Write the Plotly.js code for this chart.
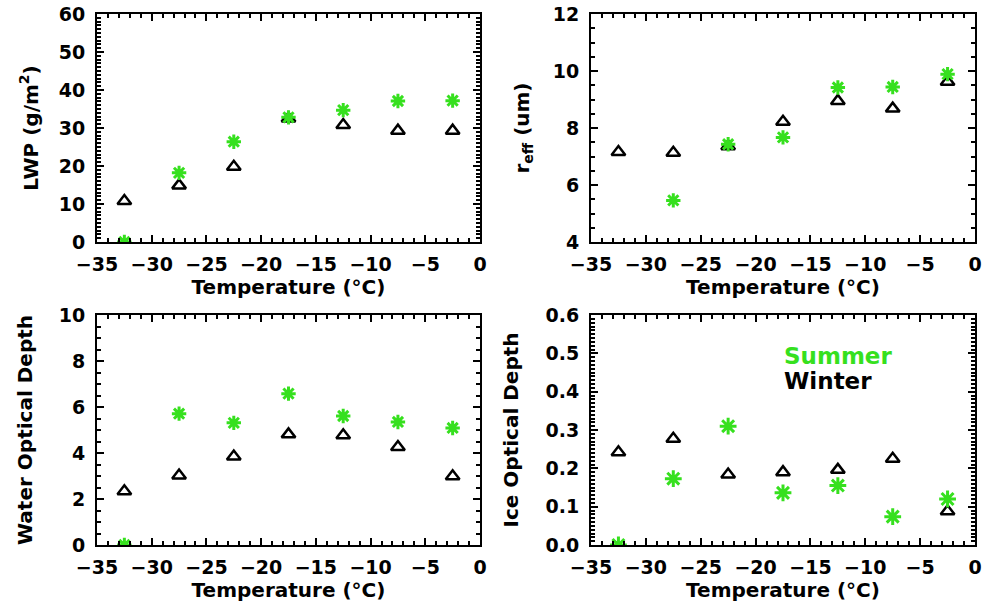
<!DOCTYPE html>
<html>
<head>
<meta charset="utf-8">
<script src="https://cdn.plot.ly/plotly-3.0.1.min.js"></script>
<style>html,body{margin:0;padding:0;background:#fff;}#chart{width:982px;height:603px;}</style>
</head>
<body>
<div id="chart"></div>
<script>
// Temperature bin centres (°C)
const temperature = [-32.5, -27.5, -22.5, -17.5, -12.5, -7.5, -2.5];

// Liquid water path (g/m^2)
const lwpWinter = [10.8, 14.9, 19.8, 32.5, 30.8, 29.3, 29.3];
const lwpSummer = [0.0, 18.2, 26.4, 32.8, 34.7, 37.1, 37.2];

// Effective radius (um)
const reffWinter = [7.16, 7.13, 7.36, 8.22, 8.95, 8.68, 9.62];
const reffSummer = [null, 5.46, 7.43, 7.67, 9.42, 9.44, 9.89];

// Water optical depth
const wodWinter = [2.34, 3.02, 3.85, 4.81, 4.77, 4.26, 2.99];
const wodSummer = [0.0, 5.71, 5.31, 6.58, 5.61, 5.35, 5.09];

// Ice optical depth
const iodWinter = [0.242, 0.277, 0.184, 0.190, 0.196, 0.225, 0.088];
const iodSummer = [0.0, 0.173, 0.310, 0.136, 0.155, 0.074, 0.120];

const seriesNames = ["Winter", "Summer"];
const GREEN = "#36e01e";
const FONT = "DejaVu Sans";

function winterTrace(y, xa, ya) {
  return {x: temperature, y: y, xaxis: xa, yaxis: ya, type: "scatter", mode: "markers",
    name: seriesNames[0], showlegend: false,
    marker: {symbol: "triangle-up-open", size: 12, color: "black", line: {width: 2.5, color: "black"}}};
}
function summerTrace(y, xa, ya, sz) {
  return {x: temperature, y: y, xaxis: xa, yaxis: ya, type: "scatter", mode: "markers",
    name: seriesNames[1], showlegend: false,
    marker: {symbol: "asterisk-open", size: sz, color: GREEN, line: {width: 3, color: GREEN}}};
}

const data = [
  winterTrace(lwpWinter, "x", "y"), summerTrace(lwpSummer, "x", "y", 12),
  winterTrace(reffWinter, "x2", "y2"), summerTrace(reffSummer, "x2", "y2", 12),
  winterTrace(wodWinter, "x3", "y3"), summerTrace(wodSummer, "x3", "y3", 12),
  winterTrace(iodWinter, "x4", "y4"), summerTrace(iodSummer, "x4", "y4", 14)
];

const tickFont = {family: FONT, size: 19, color: "black", weight: "bold"};
const titleFont = {family: FONT, size: 20, color: "black", weight: "bold"};

function xAxis(domain, anchor) {
  return {domain: domain, anchor: anchor, range: [-35, 0], tickmode: "linear", tick0: -35, dtick: 5,
    ticks: "inside", ticklen: 7, tickwidth: 2, tickcolor: "black",
    minor: {ticks: "inside", dtick: 1, ticklen: 4, tickwidth: 2, tickcolor: "black", showgrid: false},
    showline: true, linewidth: 2, linecolor: "black", mirror: "ticks", showgrid: false, zeroline: false,
    tickfont: tickFont, ticklabelstandoff: 4,
    title: {text: "Temperature (°C)", font: titleFont, standoff: 1}};
}
function yAxis(domain, anchor, range, dtick, minor, title, fmt, standoff) {
  return {domain: domain, anchor: anchor, range: range, tickmode: "linear", tick0: range[0], dtick: dtick,
    ticks: "inside", ticklen: 7, tickwidth: 2, tickcolor: "black",
    minor: {ticks: "inside", dtick: minor, ticklen: 4, tickwidth: 2, tickcolor: "black", showgrid: false},
    showline: true, linewidth: 2, linecolor: "black", mirror: "ticks", showgrid: false, zeroline: false,
    tickfont: tickFont, tickformat: fmt, ticklabelstandoff: 6,
    title: {text: title, font: titleFont, standoff: standoff}};
}

const xd1 = [97/982, 480/982], xd2 = [591/982, 975/982];
const yd1 = [(603-242)/603, (603-14)/603], yd2 = [(603-545)/603, (603-315)/603];

const layout = {
  width: 982, height: 603,
  margin: {l: 0, r: 0, t: 0, b: 0},
  paper_bgcolor: "white", plot_bgcolor: "white",
  showlegend: false,
  xaxis: xAxis(xd1, "y"),
  yaxis: yAxis(yd1, "x", [0, 60], 10, 1, "LWP (g/m<sup>2</sup>)", "d", 15),
  xaxis2: xAxis(xd2, "y2"),
  yaxis2: yAxis(yd1, "x2", [4, 12], 2, 0.5, "r<sub>eff</sub> (um)", "d", 18),
  xaxis3: xAxis(xd1, "y3"),
  yaxis3: yAxis(yd2, "x3", [0, 10], 2, 0.5, "Water Optical Depth", "d", 21),
  xaxis4: xAxis(xd2, "y4"),
  yaxis4: yAxis(yd2, "x4", [0, 0.6], 0.1, 0.01, "Ice Optical Depth", ".1f", 22),
  annotations: [
    {xref: "x4", yref: "y4", x: -17.6, y: 0.493, text: "Summer", showarrow: false, xanchor: "left",
     font: {family: FONT, size: 23, color: GREEN, weight: "bold"}},
    {xref: "x4", yref: "y4", x: -17.6, y: 0.428, text: "Winter", showarrow: false, xanchor: "left",
     font: {family: FONT, size: 23, color: "black", weight: "bold"}}
  ]
};

Plotly.newPlot("chart", data, layout, {staticPlot: true, displayModeBar: false});
</script>
</body>
</html>
